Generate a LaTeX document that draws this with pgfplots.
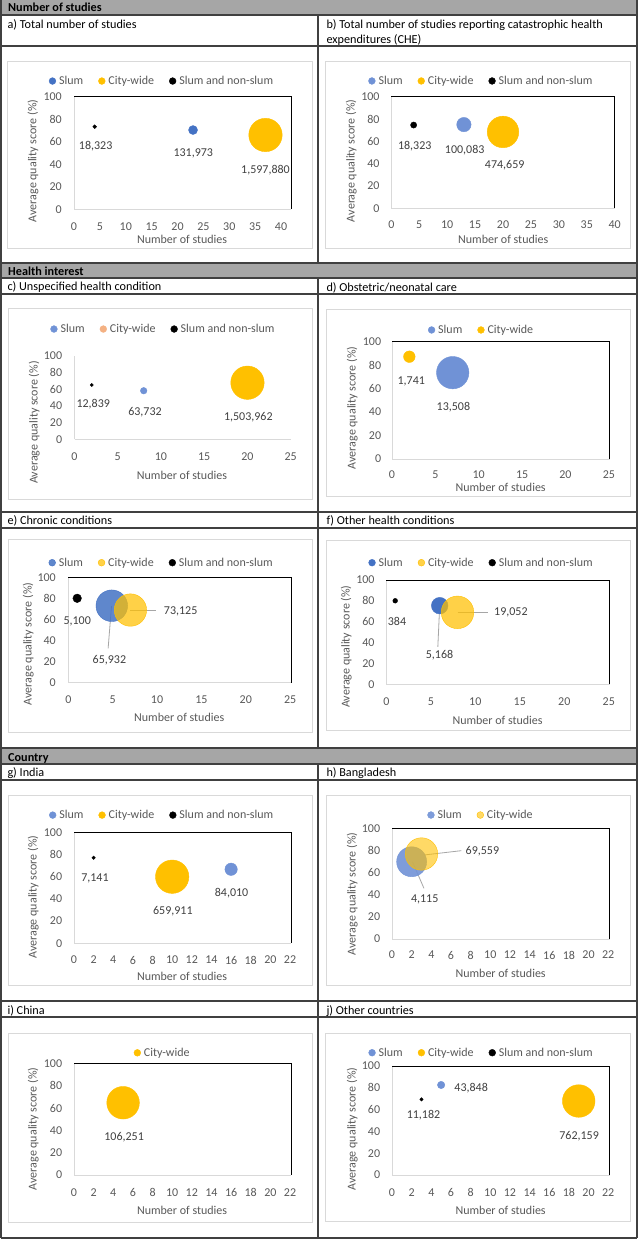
\documentclass[border=0pt]{standalone}
\usepackage{fontspec}
\setmainfont{Carlito}
\usepackage{pgfplots}
\pgfplotsset{compat=1.18}
\newcommand{\tf}{\fontsize{12}{14}\selectfont}
\newcommand{\hf}{\fontsize{12.2}{14}\selectfont}
\definecolor{hdr}{RGB}{166,166,166}
\definecolor{gridc}{RGB}{64,64,64}
\definecolor{framec}{RGB}{217,217,217}
\definecolor{axc}{RGB}{217,217,217}
\definecolor{tickc}{RGB}{89,89,89}
\definecolor{datac}{RGB}{64,64,64}
\definecolor{leadc}{RGB}{166,166,166}
\definecolor{slumA}{RGB}{68,114,196}
\definecolor{slumL}{RGB}{112,146,214}
\definecolor{gold}{RGB}{255,192,0}
\definecolor{salmon}{RGB}{244,177,131}
\tikzset{
  dl/.style={font=\tf, text=datac, inner sep=0pt, anchor=center},
  ld/.style={draw=leadc, line width=0.8pt},
  ttl/.style={anchor=base west, inner sep=0pt, font=\hf},
}
\pgfplotsset{
  bubax/.style={
    scale only axis, anchor=north west, clip=false,
    /pgf/number format/assume math mode=true,
    xmin=0, ymin=0, ymax=100, ytick={0,20,40,60,80,100},
    axis x line*=bottom, axis y line*=left,
    axis line style={draw=axc, line width=0.9pt},
    major tick length=0pt,
    tick label style={font=\tf, text=tickc},
    xticklabel style={anchor=center, inner sep=0pt},
    yticklabel style={anchor=east, inner sep=0pt},
    label style={font=\tf, text=tickc},
    xlabel={Number of studies}, ylabel={Average quality score (\%)},
    xlabel style={anchor=center, inner sep=0pt},
    ylabel style={anchor=center, inner sep=0pt},
    legend columns=-1,
    legend style={draw=none, fill=none, anchor=center, font=\tf, text=tickc,
      nodes={inner sep=0pt},
      /tikz/every odd column/.append style={column sep=3pt},
      /tikz/every even column/.append style={column sep=15pt}},
  },
  boxed/.style={after end axis/.append code={\draw[black, line width=1pt] (rel axis cs:0,1) -- (rel axis cs:1,1) -- (rel axis cs:1,0);}},
  tk/.style 2 args={xticklabel style={yshift=-#1pt}, yticklabel style={xshift=-#2pt}},
  lab/.style n args={6}{legend style={at={(#1,#2)}},
    xlabel style={at={(axis description cs:#3,#4)}},
    ylabel style={at={(axis description cs:#5,#6)}}},
  bub/.style 2 args={only marks, mark=*, mark size=#2pt, color=#1,
    every mark/.append style={draw=none},
    legend image code/.code={\fill[#1] (0pt,0pt) circle (3.4pt);}},
}
\begin{document}
\begin{tikzpicture}
\fill[white] (0pt,0pt) rectangle (638pt,-1239pt);
\useasboundingbox (0pt,0pt) rectangle (638pt,-1239pt);
% grey header rows
\fill[hdr] (1pt,0pt) rectangle (637pt,-15pt);
\fill[hdr] (1pt,-263pt) rectangle (637pt,-278pt);
\fill[hdr] (1pt,-748pt) rectangle (637pt,-764pt);
\node[ttl, font=\hf\bfseries] at (8pt,-11.5pt) {Number of studies};
\node[ttl, font=\hf\bfseries] at (8pt,-275pt) {Health interest};
\node[ttl, font=\hf\bfseries] at (8pt,-761.3pt) {Country};
% panel titles
\node[ttl] at (7.3pt,-28.3pt) {a) Total number of studies};
\node[ttl] at (326.3pt,-28.3pt) {b) Total number of studies reporting catastrophic health};
\node[ttl] at (326.3pt,-43.3pt) {expenditures (CHE)};
\node[ttl] at (7.3pt,-290.7pt) {c) Unspecified health condition};
\node[ttl] at (326.3pt,-291pt) {d) Obstetric/neonatal care};
\node[ttl] at (7.3pt,-524.7pt) {e) Chronic conditions};
\node[ttl] at (326.3pt,-524.7pt) {f) Other health conditions};
\node[ttl] at (7.3pt,-776.7pt) {g) India};
\node[ttl] at (326.3pt,-776.7pt) {h) Bangladesh};
\node[ttl] at (7.3pt,-1014pt) {i) China};
\node[ttl] at (326.3pt,-1014pt) {j) Other countries};
% chart frames
\begin{scope}[draw=framec, line width=0.8pt]
\draw (7pt,-61pt) rectangle (312pt,-248pt);
\draw (325.3pt,-61pt) rectangle (630.3pt,-248.3pt);
\draw (8pt,-308pt) rectangle (312pt,-499pt);
\draw (326pt,-309pt) rectangle (630.3pt,-496.7pt);
\draw (8pt,-539pt) rectangle (312pt,-732.7pt);
\draw (326pt,-540pt) rectangle (630.3pt,-730pt);
\draw (8pt,-795pt) rectangle (312pt,-985pt);
\draw (326pt,-795pt) rectangle (630.3pt,-985pt);
\draw (8pt,-1033pt) rectangle (312pt,-1222pt);
\draw (325.3pt,-1033pt) rectangle (630.3pt,-1221pt);
\end{scope}

% a)
\begin{axis}[bubax, boxed, at={(74pt,-96.7pt)}, width=217pt, height=112.6pt,
  xmax=41.93, xtick={0,5,...,40}, tk={17.4}{12},
  lab={0.401}{1.139}{0.498}{-0.264}{-0.189}{0.429}]
\addplot[bub={slumA}{4.5}] coordinates {(23,70.4)}; \addlegendentry{Slum}
\addplot[bub={gold}{16.7}] coordinates {(37,66)}; \addlegendentry{City-wide}
\addplot[bub={black}{1.9}] coordinates {(4,73.4)}; \addlegendentry{Slum and non-slum}
\node[dl] at (axis cs:4.19,56.5) {18,323};
\node[dl] at (axis cs:23.05,49.7) {131,973};
\node[dl] at (axis cs:37.0,34.9) {1,597,880};
\end{axis}

% b)
\begin{axis}[bubax, boxed, at={(391.3pt,-96.7pt)}, width=223.4pt, height=111.6pt,
  xmax=40, xtick={0,5,...,40}, tk={16}{11.6},
  lab={0.399}{1.141}{0.501}{-0.275}{-0.179}{0.426}]
\addplot[bub={slumL}{7.2}] coordinates {(13,75)}; \addlegendentry{Slum}
\addplot[bub={gold}{15.8}] coordinates {(20,68.4)}; \addlegendentry{City-wide}
\addplot[bub={black}{3.1}] coordinates {(4,74.6)}; \addlegendentry{Slum and non-slum}
\node[dl] at (axis cs:4.19,56.1) {18,323};
\node[dl] at (axis cs:13.14,52.2) {100,083};
\node[dl] at (axis cs:20.3,38.6) {474,659};
\end{axis}

% c)
\begin{axis}[bubax, at={(74.5pt,-355.7pt)}, width=216.2pt, height=83.6pt,
  xmax=25, xtick={0,5,...,25}, tk={17.4}{12.2},
  lab={0.407}{1.319}{0.497}{-0.426}{-0.186}{0.201}]
\addplot[bub={slumL}{3.3}] coordinates {(8,58.1)}; \addlegendentry{Slum}
\addplot[bub={gold}{16.7}, legend image code/.code={\fill[salmon] (0pt,0pt) circle (3.4pt);}] coordinates {(20,67.7)}; \addlegendentry{City-wide}
\addplot[bub={black}{1.55}] coordinates {(2,65)}; \addlegendentry{Slum and non-slum}
\node[dl] at (axis cs:2.17,42.2) {12,839};
\node[dl] at (axis cs:8.15,33.0) {63,732};
\node[dl] at (axis cs:20.1,26.3) {1,503,962};
\end{axis}

% d)
\begin{axis}[bubax, boxed, at={(392pt,-341.7pt)}, width=217.7pt, height=117.3pt,
  xmax=25.1, xtick={0,5,...,25}, tk={16}{10.7},
  lab={0.407}{1.100}{0.499}{-0.241}{-0.182}{0.435}]
\addplot[bub={slumL}{16.2}] coordinates {(7,73.6)}; \addlegendentry{Slum}
\addplot[bub={gold}{5.8}] coordinates {(2,87.2)}; \addlegendentry{City-wide}
\node[dl] at (axis cs:2.22,66.5) {1,741};
\node[dl] at (axis cs:7.08,44.1) {13,508};
\end{axis}

% e)
\begin{axis}[bubax, boxed, at={(68.3pt,-577.7pt)}, width=222.7pt, height=105pt,
  xmax=25.1, xtick={0,5,...,25}, tk={16.6}{12.3},
  lab={0.415}{1.143}{0.498}{-0.333}{-0.180}{0.369}]
\addplot[bub={slumA}{15.8}, fill opacity=0.85] coordinates {(4.9,73.3)}; \addlegendentry{Slum}
\addplot[bub={gold}{16.2}, fill opacity=0.72] coordinates {(7,69.2)}; \addlegendentry{City-wide}
\addplot[bub={black}{4.3}] coordinates {(1,80.4)}; \addlegendentry{Slum and non-slum}
\draw[ld] (axis cs:4.49,32.8) -- (axis cs:4.87,73.0);
\draw[ld] (axis cs:7,69.2) -- (axis cs:9.92,69.2);
\node[dl] at (axis cs:1.0,58.8) {5,100};
\node[dl] at (axis cs:4.63,21.6) {65,932};
\node[dl] at (axis cs:12.66,68.3) {73,125};
\end{axis}

% f)
\begin{axis}[bubax, boxed, at={(386.3pt,-580pt)}, width=223.4pt, height=104.3pt,
  xmax=25.1, xtick={0,5,...,25}, tk={17}{11.6},
  lab={0.422}{1.166}{0.498}{-0.342}{-0.179}{0.361}]
\addplot[bub={slumA}{8.3}] coordinates {(6,75.4)}; \addlegendentry{Slum}
\addplot[bub={gold}{16.3}, fill opacity=0.72] coordinates {(8,69)}; \addlegendentry{City-wide}
\addplot[bub={black}{2.4}] coordinates {(1,80.1)}; \addlegendentry{Slum and non-slum}
\draw[ld] (axis cs:5.79,36) -- (axis cs:6,75.4);
\draw[ld] (axis cs:8,69) -- (axis cs:11.38,69);
\node[dl] at (axis cs:1.2,60.7) {384};
\node[dl] at (axis cs:5.98,28.1) {5,168};
\node[dl] at (axis cs:14.0,69) {19,052};
\end{axis}

% g)
\begin{axis}[bubax, boxed, at={(74pt,-832.3pt)}, width=217pt, height=111pt,
  xmax=22.1, xtick={0,2,...,22}, tk={16.7}{11.7},
  lab={0.402}{1.155}{0.498}{-0.301}{-0.188}{0.417}]
\addplot[bub={slumL}{6.2}] coordinates {(16,66.7)}; \addlegendentry{Slum}
\addplot[bub={gold}{16.7}] coordinates {(10,60)}; \addlegendentry{City-wide}
\addplot[bub={black}{1.75}] coordinates {(2,77.1)}; \addlegendentry{Slum and non-slum}
\node[dl] at (axis cs:2.13,58.6) {7,141};
\node[dl] at (axis cs:10.07,29.1) {659,911};
\node[dl] at (axis cs:16.05,45.6) {84,010};
\end{axis}

% h)
\begin{axis}[bubax, boxed, at={(392pt,-828.3pt)}, width=217.7pt, height=110.7pt,
  xmax=22.15, xtick={0,2,...,22}, tk={16}{11.7},
  lab={0.404}{1.120}{0.499}{-0.310}{-0.182}{0.407}]
\addplot[bub={slumL}{15}, fill opacity=0.9] coordinates {(2,69.8)}; \addlegendentry{Slum}
\addplot[bub={gold}{16.2}, fill opacity=0.6] coordinates {(3,76.8)}; \addlegendentry{City-wide}
\draw[ld] (axis cs:3.25,45.8) -- (axis cs:2.08,69.8);
\draw[ld] (axis cs:3.26,75.9) -- (axis cs:7.06,79.8);
\node[dl] at (axis cs:3.33,35.9) {4,115};
\node[dl] at (axis cs:9.2,78.9) {69,559};
\end{axis}

% i)
\begin{axis}[bubax, boxed, at={(74pt,-1063.3pt)}, width=217pt, height=111.7pt,
  xmax=22.1, xtick={0,2,...,22}, tk={17.3}{11.7},
  lab={0.404}{1.094}{0.498}{-0.320}{-0.188}{0.412}]
\addplot[bub={gold}{16.3}] coordinates {(5,64.7)}; \addlegendentry{City-wide}
\node[dl] at (axis cs:5.1,33.8) {106,251};
\end{axis}

% j)
\begin{axis}[bubax, boxed, at={(392pt,-1066pt)}, width=217.7pt, height=109pt,
  xmax=22.15, xtick={0,2,...,22}, tk={17.3}{11.7},
  lab={0.407}{1.122}{0.499}{-0.321}{-0.182}{0.422}]
\addplot[bub={slumL}{3.7}] coordinates {(5,82.6)}; \addlegendentry{Slum}
\addplot[bub={gold}{16.3}] coordinates {(19,67.9)}; \addlegendentry{City-wide}
\addplot[bub={black}{1.7}] coordinates {(3,69.4)}; \addlegendentry{Slum and non-slum}
\node[dl] at (axis cs:3.2,55) {11,182};
\node[dl] at (axis cs:8.05,79.5) {43,848};
\node[dl] at (axis cs:19.04,36) {762,159};
\end{axis}

% table grid
\begin{scope}[draw=gridc, line width=1.2pt]
\foreach \yy in {15,46,263,278,294,512,528,748,764,780,1001,1017,1238}
  \draw (1pt,-\yy pt) -- (637pt,-\yy pt);
\draw (1pt,0pt) -- (1pt,-1238pt);
\draw (637pt,0pt) -- (637pt,-1238pt);
\draw (318pt,-15pt) -- (318pt,-263pt);
\draw (318pt,-278pt) -- (318pt,-748pt);
\draw (318pt,-764pt) -- (318pt,-1238pt);
\end{scope}
\end{tikzpicture}
\end{document}
